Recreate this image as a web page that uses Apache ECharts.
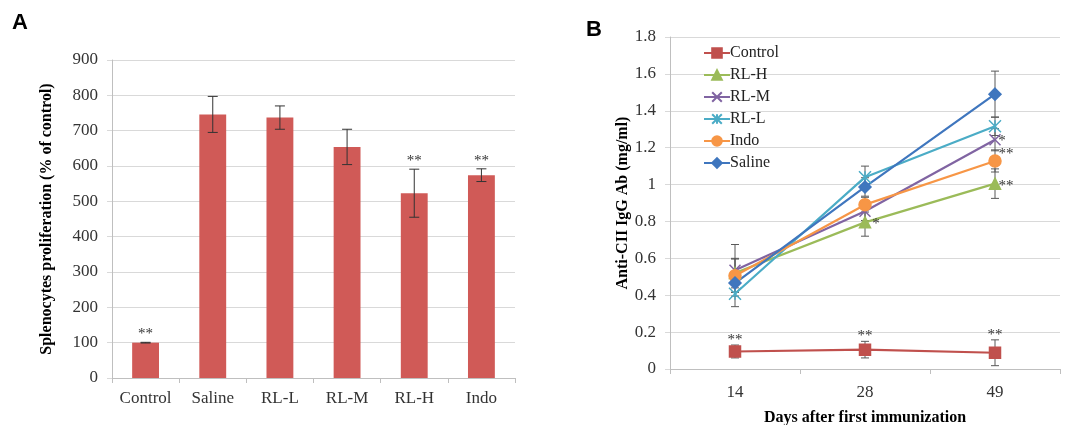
<!DOCTYPE html>
<html>
<head>
<meta charset="utf-8">
<script src="https://cdn.jsdelivr.net/npm/echarts@6/dist/echarts.min.js"></script>
<style>
  html, body { margin: 0; padding: 0; background: #fff; }
  #chart { width: 1067px; height: 425px; }
</style>
</head>
<body>
<div id="chart"></div>
<script>
// panel A - splenocytes proliferation
const groupsA = ['Control', 'Saline', 'RL-L', 'RL-M', 'RL-H', 'Indo']
const prolifMean = [100, 746, 737, 654, 523, 574]
const prolifErr = [1, 51, 33, 50, 68, 18]
const prolifStars = ['**', '', '', '', '**', '**']

// panel B - anti-CII IgG
const days = ['14', '28', '49']
const controlIgG = [0.095, 0.105, 0.088]
const controlErr = [0.035, 0.045, 0.07]
const controlStars = ['**', '**', '**']
const rlhIgG = [0.52, 0.795, 1.005]
const rlhErr = [0.08, 0.075, 0.08]
const rlhStars = ['', '*', '**']
const rlmIgG = [0.535, 0.855, 1.243]
const rlmErr = [0.14, 0.05, 0.06]
const rlmStars = ['', '', '*']
const rllIgG = [0.408, 1.04, 1.316]
const rllErr = [0.07, 0.06, 0.05]
const indoIgG = [0.506, 0.891, 1.128]
const indoErr = [0.09, 0.04, 0.06]
const indoStars = ['', '', '**']
const salineIgG = [0.466, 0.987, 1.49]
const salineErr = [0.05, 0.05, 0.125]

const serif = 'Liberation Serif'
const chart = echarts.init(document.getElementById('chart'))

// error bar drawing
function errorBars(capHalf, color) {
  return function (params, api) {
    const x = api.value(0)
    const lo = api.coord([x, api.value(1)])
    const hi = api.coord([x, api.value(2)])
    const style = { stroke: color, lineWidth: 1 }
    return {
      type: 'group',
      children: [
        { type: 'line', shape: { x1: lo[0], y1: lo[1], x2: hi[0], y2: hi[1] }, style },
        { type: 'line', shape: { x1: lo[0] - capHalf, y1: lo[1], x2: lo[0] + capHalf, y2: lo[1] }, style },
        { type: 'line', shape: { x1: hi[0] - capHalf, y1: hi[1], x2: hi[0] + capHalf, y2: hi[1] }, style }
      ]
    }
  }
}

// star labels, dx/dy are pixel offsets
function starText(params, api) {
  const p = api.coord([api.value(0), api.value(1)])
  return {
    type: 'text',
    x: p[0] + api.value(3),
    y: p[1] + api.value(4),
    style: { text: api.value(2), fill: '#333', font: '15px ' + serif, align: 'center', verticalAlign: 'middle' }
  }
}

const barErrData = prolifMean.map((v, i) => [i, v - prolifErr[i], v + prolifErr[i]])
const barStarData = prolifMean.map((v, i) => [i, v + prolifErr[i], prolifStars[i], 0, -8]).filter(d => d[2])

const lineDefs = [
  { name: 'Control', vals: controlIgG, err: controlErr, color: '#C0504D', symbol: 'rect', size: 11 },
  { name: 'RL-H', vals: rlhIgG, err: rlhErr, color: '#9BBB59', symbol: 'triangle', size: 11 },
  { name: 'RL-M', vals: rlmIgG, err: rlmErr, color: '#8064A2', symbol: 'path://M0,0L10,10M10,0L0,10', size: 11 },
  { name: 'RL-L', vals: rllIgG, err: rllErr, color: '#4BACC6', symbol: 'path://M0,0L10,10M10,0L0,10M5,0L5,10', size: 12 },
  { name: 'Indo', vals: indoIgG, err: indoErr, color: '#F79646', symbol: 'circle', size: 12 },
  { name: 'Saline', vals: salineIgG, err: salineErr, color: '#3F76BE', symbol: 'diamond', size: 12 }
]

const lineErrData = []
lineDefs.forEach(d => {
  d.vals.forEach((v, i) => lineErrData.push([i, v - d.err[i], v + d.err[i]]))
})

const lineStarData = []
controlIgG.forEach((v, i) => lineStarData.push([i, v + controlErr[i], controlStars[i], 0, -5]))
rlhIgG.forEach((v, i) => { if (rlhStars[i]) lineStarData.push([i, v, rlhStars[i], 11, 2]) })
rlmIgG.forEach((v, i) => { if (rlmStars[i]) lineStarData.push([i, v, rlmStars[i], 7, 1]) })
indoIgG.forEach((v, i) => { if (indoStars[i]) lineStarData.push([i, v, indoStars[i], 11, -7]) })

const lineSeries = lineDefs.map(d => ({
  type: 'line',
  name: d.name,
  xAxisIndex: 1,
  yAxisIndex: 1,
  data: d.vals,
  symbol: d.symbol,
  symbolSize: d.size,
  showAllSymbol: true,
  z: 3,
  lineStyle: { color: d.color, width: 2.2 },
  itemStyle: { color: d.color, borderColor: d.color, borderWidth: 1.5 }
}))

const axisLabelStyle = { fontFamily: serif, fontSize: 17, color: '#333' }
const gridLine = { lineStyle: { color: '#D9D9D9', width: 1 } }
const axisLineGray = { lineStyle: { color: '#BFBFBF', width: 1 } }

chart.setOption({
  animation: false,
  graphic: [
    { type: 'text', left: 12, top: 12, style: { text: 'A', font: 'bold 22px Liberation Sans', fill: '#000' } },
    { type: 'text', left: 586, top: 19, style: { text: 'B', font: 'bold 22px Liberation Sans', fill: '#000' } }
  ],
  legend: {
    orient: 'vertical',
    left: 698,
    top: 40,
    itemWidth: 26,
    itemHeight: 12,
    itemGap: 6,
    textStyle: { fontFamily: serif, fontSize: 16, color: '#222', padding: [0, 0, 0, -5] },
    data: lineDefs.map(d => d.name)
  },
  grid: [
    { left: 112, top: 60, width: 403, height: 318, outerBoundsMode: 'none' },
    { left: 670, top: 37, width: 390, height: 332, outerBoundsMode: 'none' }
  ],
  xAxis: [
    {
      type: 'category',
      gridIndex: 0,
      data: groupsA,
      axisLine: axisLineGray,
      axisTick: { show: true, length: 5, lineStyle: { color: '#BFBFBF' } },
      axisLabel: Object.assign({ margin: 12, interval: 0 }, axisLabelStyle)
    },
    {
      type: 'category',
      gridIndex: 1,
      data: days,
      name: 'Days after first immunization',
      nameLocation: 'middle',
      nameGap: 41,
      nameTextStyle: { fontFamily: serif, fontSize: 16, fontWeight: 'bold', color: '#000' },
      axisLine: axisLineGray,
      axisTick: { show: true, length: 5, lineStyle: { color: '#BFBFBF' } },
      axisLabel: Object.assign({ margin: 15, interval: 0 }, axisLabelStyle)
    }
  ],
  yAxis: [
    {
      type: 'value',
      gridIndex: 0,
      min: 0,
      max: 900,
      interval: 100,
      name: 'Splenocytes proliferation (% of control)',
      nameLocation: 'middle',
      nameGap: 57,
      nameTextStyle: { fontFamily: serif, fontSize: 16, fontWeight: 'bold', color: '#000' },
      axisLine: { show: true, lineStyle: { color: '#BFBFBF' } },
      axisTick: { show: true, length: 5, lineStyle: { color: '#D9D9D9' } },
      splitLine: gridLine,
      axisLabel: Object.assign({ margin: 14 }, axisLabelStyle)
    },
    {
      type: 'value',
      gridIndex: 1,
      min: 0,
      max: 1.8,
      interval: 0.2,
      name: 'Anti-CII IgG Ab (mg/ml)',
      nameLocation: 'middle',
      nameGap: 38,
      nameTextStyle: { fontFamily: serif, fontSize: 16, fontWeight: 'bold', color: '#000' },
      axisLine: { show: true, lineStyle: { color: '#BFBFBF' } },
      axisTick: { show: true, length: 5, lineStyle: { color: '#D9D9D9' } },
      splitLine: gridLine,
      axisLabel: Object.assign({ margin: 14, formatter: v => String(+v.toFixed(1)) }, axisLabelStyle)
    }
  ],
  series: [
    {
      type: 'bar',
      xAxisIndex: 0,
      yAxisIndex: 0,
      data: prolifMean,
      barWidth: '40%',
      itemStyle: { color: '#D05A57' }
    },
    {
      type: 'custom',
      xAxisIndex: 0,
      yAxisIndex: 0,
      renderItem: errorBars(5, '#333'),
      encode: { x: 0, y: [1, 2] },
      data: barErrData,
      z: 5
    },
    {
      type: 'custom',
      xAxisIndex: 0,
      yAxisIndex: 0,
      renderItem: starText,
      encode: { x: 0, y: 1 },
      data: barStarData,
      z: 6
    },
    {
      type: 'custom',
      xAxisIndex: 1,
      yAxisIndex: 1,
      renderItem: errorBars(4, '#595959'),
      encode: { x: 0, y: [1, 2] },
      data: lineErrData,
      z: 1
    },
    ...lineSeries,
    {
      type: 'custom',
      xAxisIndex: 1,
      yAxisIndex: 1,
      renderItem: starText,
      encode: { x: 0, y: 1 },
      data: lineStarData,
      z: 6
    }
  ]
})
</script>
</body>
</html>
